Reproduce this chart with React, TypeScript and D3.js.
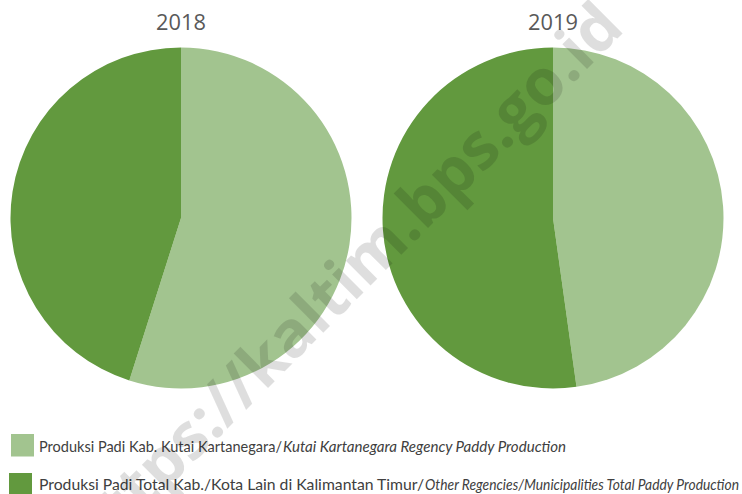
import React from "react";
import * as d3 from "d3";

const years = ["2018", "2019"];
const categories = ["Kutai Kartanegara", "Lainnya"];
// share of production (%) per year: [Kutai Kartanegara, other regencies/municipalities]
const kukarShare = [54.9, 47.8];
const otherShare = [45.1, 52.2];
const colors = ["#A2C48F", "#62993E"];
const legendNormal = [
  "Produksi Padi Kab. Kutai Kartanegara/",
  "Produksi Padi Total Kab./Kota Lain di Kalimantan Timur/",
];
const legendItalic = [
  "Kutai Kartanegara Regency Paddy Production",
  "Other Regencies/Municipalities Total Paddy Production",
];
const watermark = "https://kaltim.bps.go.id";

const W = 742;
const H = 494;

export default function App() {
  const cx = d3.scaleBand<string>().domain(years).range([-5, 739]).paddingInner(0);
  const r = 170.5;
  const cy = 218;
  const pie = d3
    .pie<number>()
    .sort(null)
    .value((d) => d);
  const arc = d3.arc<d3.PieArcDatum<number>>().innerRadius(0).outerRadius(r);
  const color = d3.scaleOrdinal<number, string>().domain([0, 1]).range(colors);

  const legendX = [11, 9];
  const legendY = [434, 473];
  const baseY = [451.7, 489.5];
  const normalW = [243, 385];
  const italicStart = [283, 425];
  const italicW = [283, 314];

  return (
    <svg
      width={W}
      height={H}
      style={{ position: "absolute", left: 0, top: 0, background: "#fff" }}
    >
      {years.map((y, i) => {
        const x = (cx(y) as number) + cx.bandwidth() / 2;
        const arcs = pie([kukarShare[i], otherShare[i]]);
        return (
          <g key={y}>
            <text
              x={x}
              y={29.5}
              textAnchor="middle"
              fontFamily="'Open Sans', sans-serif"
              fontSize={21.8}
              fill="#595959"
            >
              {y}
            </text>
            <g transform={`translate(${x},${cy})`}>
              {arcs.map((a, j) => (
                <path key={categories[j]} d={arc(a) as string} fill={color(j)} />
              ))}
            </g>
          </g>
        );
      })}
      {legendNormal.map((t, i) => (
        <g key={t}>
          <rect x={legendX[i]} y={legendY[i]} width={23} height={22.5} fill={colors[i]} />
          <text
            x={39}
            y={baseY[i]}
            fontFamily="Lato, sans-serif"
            fontSize={15}
            fill="#404040"
            textLength={normalW[i]}
            lengthAdjust="spacingAndGlyphs"
          >
            {t}
          </text>
          <text
            x={italicStart[i]}
            y={baseY[i]}
            fontFamily="Lato, sans-serif"
            fontStyle="italic"
            fontSize={15.5}
            fill="#404040"
            textLength={italicW[i]}
            lengthAdjust="spacingAndGlyphs"
          >
            {legendItalic[i]}
          </text>
        </g>
      ))}
      <text
        transform="translate(360,296) rotate(-45)"
        textAnchor="middle"
        fontFamily="'Open Sans', sans-serif"
        fontWeight="bold"
        fontSize={64}
        fill="#000"
        fillOpacity={0.13}
      >
        {watermark}
      </text>
    </svg>
  );
}
